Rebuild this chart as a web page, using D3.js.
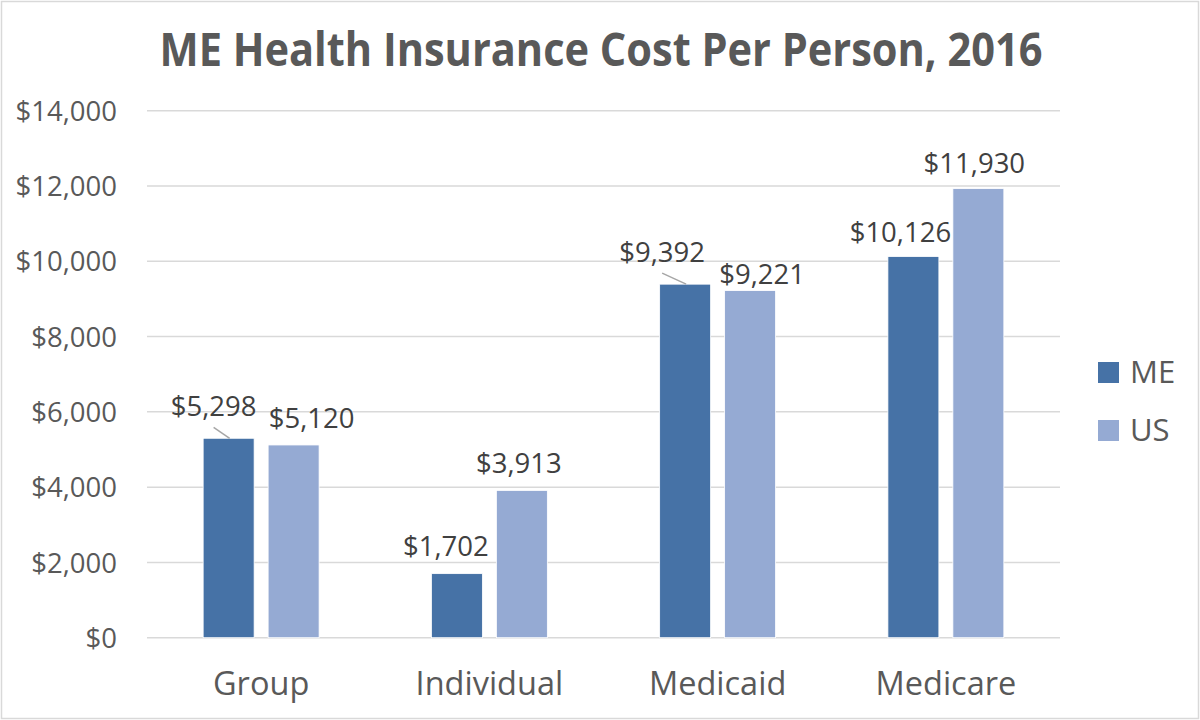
<!DOCTYPE html>
<html>
<head>
<meta charset="utf-8">
<script src="https://cdn.jsdelivr.net/npm/d3@7/dist/d3.min.js"></script>
<style>
  html, body { margin: 0; padding: 0; background: #fff; }
  svg { display: block; }
  text { font-family: "Open Sans", "Noto Sans", sans-serif; }
</style>
</head>
<body>
<svg id="chart" width="1200" height="720"></svg>
<script>
// ---- data ----
const categories = ["Group", "Individual", "Medicaid", "Medicare"];
const seriesNames = ["ME", "US"];
const meValues = [5298, 1702, 9392, 10126];
const usValues = [5120, 3913, 9221, 11930];
const yTicks = [0, 2000, 4000, 6000, 8000, 10000, 12000, 14000];
const title = "ME Health Insurance Cost Per Person, 2016";

// label nudges (layout, not data): [dx, dy] relative to bar top-center
const meLabelNudge = [[-15, -22], [-11, -18], [-23, -22], [-13, -15]];
const usLabelNudge = [[18, -17], [-3, -17], [12, -7], [-4, -16]];
// leader lines drawn for these labels (ME series index)
const meLeader = [true, false, true, false];

const colors = { ME: "#4672a6", US: "#95aad3" };

const svg = d3.select("#chart");
const W = 1200, H = 720;
const plotLeft = 147, plotRight = 1060, plotTop = 110.7, plotBottom = 637.7;

// border
svg.append("rect").attr("x", 1.5).attr("y", 1.5).attr("width", W - 3).attr("height", H - 3)
  .attr("fill", "#fff").attr("stroke", "#d9d9d9").attr("stroke-width", 1.5);

// scales
const x0 = d3.scaleBand().domain(categories).range([plotLeft, plotRight])
  .paddingInner(0.492).paddingOuter(0.246);
const x1 = d3.scaleBand().domain(seriesNames).range([0, x0.bandwidth()])
  .paddingInner(14 / 65);
const y = d3.scaleLinear().domain([0, 14000]).range([plotBottom, plotTop]);

// gridlines
svg.append("g").selectAll("line").data(yTicks).join("line")
  .attr("x1", plotLeft).attr("x2", plotRight)
  .attr("y1", d => y(d)).attr("y2", d => y(d))
  .attr("stroke", "#d9d9d9").attr("stroke-width", 1.5);

// y axis labels
const fmt = d => "$" + d3.format(",")(d);
const yAxis = d3.axisLeft(y).tickValues(yTicks).tickFormat(fmt).tickSize(0).tickPadding(30);
const gy = svg.append("g").attr("transform", `translate(${plotLeft},0)`).call(yAxis);
gy.select(".domain").remove();
gy.selectAll("text").attr("font-size", 27.5).attr("fill", "#595959")
  .attr("font-family", '"Open Sans", sans-serif').attr("dy", "0.35em");

// x axis labels
const xAxis = d3.axisBottom(x0).tickSize(0).tickPadding(34);
const gx = svg.append("g").attr("transform", `translate(0,${plotBottom})`).call(xAxis);
gx.select(".domain").remove();
gx.selectAll("text").attr("font-size", 32.5).attr("fill", "#595959")
  .attr("font-family", '"Open Sans", sans-serif');

// bars
const rows = categories.map((c, i) => ({
  cat: c,
  vals: [
    { s: "ME", v: meValues[i], nudge: meLabelNudge[i], leader: meLeader[i] },
    { s: "US", v: usValues[i], nudge: usLabelNudge[i], leader: false }
  ]
}));

const groups = svg.append("g").selectAll("g").data(rows).join("g")
  .attr("transform", d => `translate(${x0(d.cat)},0)`);

groups.selectAll("rect").data(d => d.vals).join("rect")
  .attr("x", d => x1(d.s))
  .attr("y", d => y(d.v))
  .attr("width", x1.bandwidth())
  .attr("height", d => y(0) - y(d.v))
  .attr("fill", d => colors[d.s])
  .attr("stroke", "#ffffff").attr("stroke-width", 0.8);

// leader lines
groups.selectAll("line.leader").data(d => d.vals.filter(v => v.leader)).join("line")
  .attr("class", "leader")
  .attr("x1", d => x1(d.s) + x1.bandwidth() / 2 + d.nudge[0])
  .attr("y1", d => y(d.v) + d.nudge[1] + 11)
  .attr("x2", d => x1(d.s) + x1.bandwidth() / 2 + 1)
  .attr("y2", d => y(d.v))
  .attr("stroke", "#a6a6a6").attr("stroke-width", 1.5);

// data labels
groups.selectAll("text.lbl").data(d => d.vals).join("text")
  .attr("class", "lbl")
  .attr("x", d => x1(d.s) + x1.bandwidth() / 2 + d.nudge[0])
  .attr("y", d => y(d.v) + d.nudge[1])
  .attr("text-anchor", "middle")
  .attr("font-size", 27.5).attr("fill", "#404040")
  .text(d => fmt(d.v));

// title
svg.append("text")
  .attr("x", 601).attr("y", 66)
  .attr("text-anchor", "middle")
  .attr("font-size", 46).attr("font-weight", "bold").attr("fill", "#595959")
  .attr("textLength", 883).attr("lengthAdjust", "spacingAndGlyphs")
  .text(title);

// legend
const leg = svg.append("g").selectAll("g").data(seriesNames).join("g")
  .attr("transform", (d, i) => `translate(1098,${362 + i * 58})`);
leg.append("rect").attr("width", 21).attr("height", 21).attr("fill", d => colors[d]);
leg.append("text").attr("x", 32).attr("y", 21).attr("font-size", 31).attr("fill", "#595959")
  .text(d => d);
</script>
</body>
</html>
